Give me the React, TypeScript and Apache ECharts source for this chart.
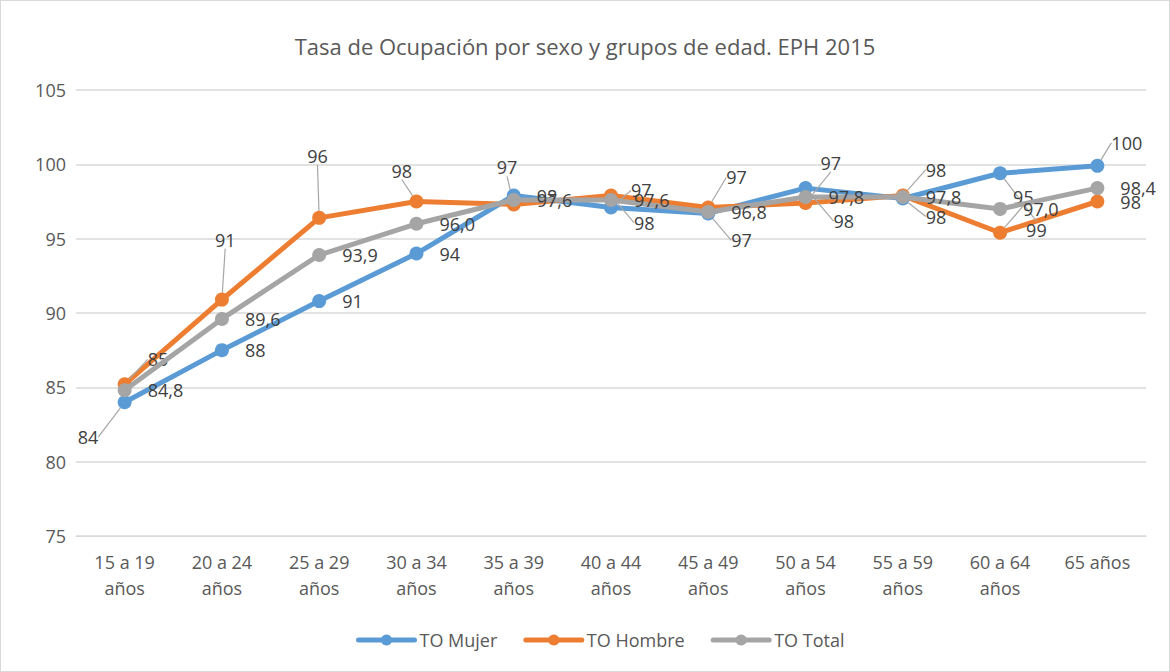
import React, { useEffect, useRef } from "react";
import * as echarts from "echarts";

const categories = [
  "15 a 19\naños",
  "20 a 24\naños",
  "25 a 29\naños",
  "30 a 34\naños",
  "35 a 39\naños",
  "40 a 44\naños",
  "45 a 49\naños",
  "50 a 54\naños",
  "55 a 59\naños",
  "60 a 64\naños",
  "65 años",
];
const mujer = [84.0, 87.5, 90.8, 94.0, 97.9, 97.1, 96.7, 98.4, 97.7, 99.4, 99.9];
const hombre = [85.2, 90.9, 96.4, 97.5, 97.3, 97.9, 97.1, 97.4, 97.9, 95.4, 97.5];
const total = [84.8, 89.6, 93.9, 96.0, 97.6, 97.6, 96.8, 97.8, 97.8, 97.0, 98.4];
const yTicks = { min: 75, max: 105, interval: 5 };
const seriesNames = ["TO Mujer", "TO Hombre", "TO Total"];
const colors = ["#5B9BD5", "#ED7D31", "#A5A5A5"];

export default function App() {
  const ref = useRef<HTMLDivElement>(null);
  useEffect(() => {
    document.body.style.margin = "0";
    const chart = echarts.init(ref.current!, null, { renderer: "svg" });
    const FONT = "'Open Sans', sans-serif";

    // label displacement (px) relative to default right-side label, per point
    const moves: number[][][] = [
      [[-70, 35], [0, 0], [0, 0], [0, 0], [0, 0], [-3, -17], [0, 27], [5, 33], [0, 18], [3, 57], [-9, -23]],
      [[0, -25], [-30, -60], [-35, -62], [-48, -31], [-40, -37], [0, 27], [-5, -30], [-8, -40], [0, -26], [-10, -36], [0, 0]],
      [[0, 0], [0, 0], [0, 0], [0, 0], [0, 0], [0, 0], [0, 0], [0, 0], [0, 0], [0, 0], [0, 0]],
    ];

    const values = [mujer, hombre, total];
    const series = values.map((vals, si) => ({
      name: seriesNames[si],
      type: "line",
      data: vals.map((v, i) => {
        const m = moves[si][i];
        const moved = Math.abs(m[0]) + Math.abs(m[1]) > 12;
        return { value: v, labelLine: { show: moved } };
      }),
      symbol: "circle",
      symbolSize: 14,
      lineStyle: { width: 5, color: colors[si], cap: "round", join: "round" },
      itemStyle: { color: colors[si] },
      z: si === 2 ? 3 : 2,
      label: {
        show: true,
        position: "right",
        distance: 16,
        fontSize: 18,
        fontFamily: FONT,
        color: "#404040",
        formatter: (p: any) =>
          si === 2 ? Number(p.value).toFixed(1).replace(".", ",") : String(Math.round(p.value)),
      },
      labelLine: { show: false, lineStyle: { color: "#A6A6A6", width: 1.2 } },
      labelLayout: (params: any) => {
        const m = moves[si][params.dataIndex];
        return { dx: m[0], dy: m[1] };
      },
    }));

    chart.setOption({
      animation: false,
      color: colors,
      title: {
        text: "Tasa de Ocupación por sexo y grupos de edad. EPH 2015",
        left: "center",
        top: 29,
        textStyle: { fontSize: 22, fontWeight: "normal", color: "#595959", fontFamily: FONT },
      },
      legend: {
        bottom: 17,
        left: 350,
        itemWidth: 56,
        itemHeight: 14,
        itemGap: 26,
        lineStyle: { width: 5 },
        textStyle: { fontSize: 18, color: "#595959", fontFamily: FONT },
        data: seriesNames,
      },
      grid: { left: 75, right: 23, top: 89, bottom: 135, containLabel: false },
      xAxis: {
        type: "category",
        data: categories,
        boundaryGap: true,
        axisLine: { lineStyle: { color: "#D9D9D9", width: 1 } },
        axisTick: { show: false },
        axisLabel: {
          fontSize: 18,
          color: "#595959",
          fontFamily: FONT,
          lineHeight: 26,
          margin: 13,
          interval: 0,
        },
      },
      yAxis: {
        type: "value",
        min: yTicks.min,
        max: yTicks.max,
        interval: yTicks.interval,
        axisLine: { show: false },
        axisTick: { show: false },
        splitLine: { lineStyle: { color: "#D9D9D9", width: 1.5 } },
        axisLabel: { fontSize: 18, color: "#595959", fontFamily: FONT, margin: 10 },
      },
      series,
    });
    return () => chart.dispose();
  }, []);
  return (
    <div
      style={{
        width: 1170,
        height: 672,
        boxSizing: "border-box",
        border: "1px solid #D9D9D9",
      }}
    >
      <div ref={ref} style={{ width: 1168, height: 670 }} />
    </div>
  );
}
